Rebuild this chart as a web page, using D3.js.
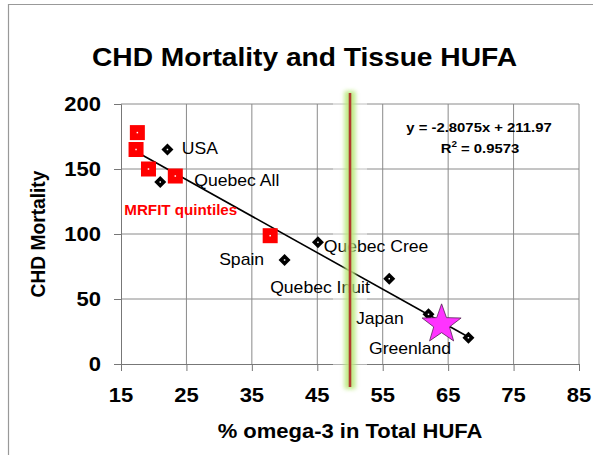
<!DOCTYPE html>
<html><head><meta charset="utf-8">
<script src="https://cdn.jsdelivr.net/npm/d3@7"></script>
<style>body{margin:0;background:#fff}svg{display:block;font-family:"Liberation Sans",Arial,sans-serif}</style>
</head><body>
<script>
// ---- data ----
const xTicks = [15, 25, 35, 45, 55, 65, 75, 85];
const yTicks = [0, 50, 100, 150, 200];
const mrfitX = [17.5, 17.3, 19.2, 23.3, 37.8];
const mrfitY = [178, 165, 150, 144.6, 98.7];
const countryNames = ["USA", "Quebec All", "Spain", "Quebec Cree", "Quebec Inuit", "Japan", "Greenland"];
const countryX = [22.1, 21.0, 40.0, 45.1, 56.0, 62.0, 68.1];
const countryY = [165, 140, 80, 93.6, 65.6, 38.2, 20.2];
const starX = [64.0];
const starY = [30.5];
const trendSlope = -2.8075, trendIntercept = 211.97;
const trendXRange = [17.2, 68.1];
const thresholdX = [50];
const labelText = ["USA", "Quebec All", "MRFIT quintiles", "Quebec Cree", "Spain", "Quebec Inuit", "Japan", "Greenland"];
const labelX = [24.3, 26.2, 15.5, 46.0, 30.0, 37.8, 50.9, 52.9];
const labelY = [161.5, 137, 114.6, 86.4, 76.2, 54.8, 30.8, 7.4];
const equationLines = ["y = -2.8075x + 211.97", "R", "2", " = 0.9573"];

// ---- layout ----
const W = 593, H = 455;
const svg = d3.select("body").append("svg").attr("width", W).attr("height", H);
const x = d3.scaleLinear().domain([15, 85]).range([121, 579]);
const y = d3.scaleLinear().domain([0, 200]).range([364, 104]);
const SX = 1.1; // horizontal stretch of the original text

function stretchedText(px, py, str, opts = {}) {
  const g = svg.append("g").attr("transform", `translate(${px},${py}) scale(${SX},1)` + (opts.rotate ? ` rotate(${opts.rotate})` : ""));
  const t = g.append("text").attr("x", 0).attr("y", 0)
    .attr("text-anchor", opts.anchor || "start")
    .attr("font-size", opts.size || 14)
    .attr("font-weight", opts.weight || "normal")
    .attr("fill", opts.fill || "#000")
    .text(str);
  return t;
}

// frame
svg.append("path").attr("d", `M8.5,${H} V4.5 H${W}`).attr("fill", "none").attr("stroke", "#999").attr("stroke-width", 1.2);

// gridlines
const grid = svg.append("g").attr("stroke", "#8a8a8a").attr("stroke-width", 1);
grid.selectAll(".vg").data(xTicks.slice(1)).join("line")
  .attr("x1", d => x(d)).attr("x2", d => x(d)).attr("y1", y(200)).attr("y2", y(0));
grid.selectAll(".hg").data(yTicks.slice(1)).join("line")
  .attr("x1", x(15)).attr("x2", x(85)).attr("y1", d => y(d)).attr("y2", d => y(d));

// axes
const xAxis = d3.axisBottom(x).tickValues(xTicks).tickSize(7).tickFormat("");
const gx = svg.append("g").attr("transform", `translate(0,${y(0)})`).call(xAxis);
gx.select(".domain").attr("stroke", "#777");
gx.selectAll(".tick line").attr("stroke", "#777");
const yAxis = d3.axisLeft(y).tickValues(yTicks).tickSize(7).tickFormat("");
const gy = svg.append("g").attr("transform", `translate(${x(15)},0)`).call(yAxis);
gy.select(".domain").attr("stroke", "#777");
gy.selectAll(".tick line").attr("stroke", "#777");

// tick labels
xTicks.forEach(v => stretchedText(x(v), 402, d3.format("d")(v), {anchor: "middle", size: 20, weight: "bold"}));
yTicks.forEach(v => stretchedText(101, y(v) + 7, d3.format("d")(v), {anchor: "end", size: 20, weight: "bold"}));

// washed zone behind threshold
const tx = x(thresholdX[0]);
svg.append("rect").attr("x", tx - 17).attr("width", 34).attr("y", 92).attr("height", 296).attr("fill", "#fff").attr("opacity", 0.45);

// trend line
svg.append("line")
  .attr("x1", x(trendXRange[0])).attr("y1", y(trendSlope * trendXRange[0] + trendIntercept))
  .attr("x2", x(trendXRange[1])).attr("y2", y(trendSlope * trendXRange[1] + trendIntercept))
  .attr("stroke", "#000").attr("stroke-width", 1.6);

// MRFIT squares
const sq = 15;
svg.selectAll(".mr").data(mrfitX.map((v, i) => [v, mrfitY[i]])).join("rect")
  .attr("x", d => x(d[0]) - sq / 2).attr("y", d => y(d[1]) - sq / 2)
  .attr("width", sq).attr("height", sq).attr("fill", "#ff0000");
svg.selectAll(".mrd").data(mrfitX.map((v, i) => [v, mrfitY[i]])).join("rect")
  .attr("x", d => x(d[0]) - 0.75).attr("y", d => y(d[1]) - 0.75).attr("width", 1.5).attr("height", 1.5).attr("fill", "#fff");

// country diamonds
const dm = d3.symbol().type(d3.symbolDiamond2).size(92);
const cpts = countryX.map((v, i) => [v, countryY[i]]);
svg.selectAll(".cd").data(cpts).join("path")
  .attr("d", dm).attr("transform", d => `translate(${x(d[0])},${y(d[1])})`).attr("fill", "#000");
svg.selectAll(".cdd").data(cpts).join("rect")
  .attr("x", d => x(d[0]) - 0.75).attr("y", d => y(d[1]) - 0.75).attr("width", 1.5).attr("height", 1.5).attr("fill", "#fff");

// labels
labelText.forEach((s, i) => {
  const isMr = s === "MRFIT quintiles";
  stretchedText(x(labelX[i]), y(labelY[i]), s, {size: isMr ? 13.8 : 16, weight: isMr ? "bold" : "normal", fill: isMr ? "#ff0000" : "#000"});
});

// star
const starPath = (cx, cy, R, r) => {
  const pts = [];
  for (let k = 0; k < 10; k++) {
    const a = -Math.PI / 2 + k * Math.PI / 5;
    const rad = k % 2 === 0 ? R : r;
    pts.push([cx + rad * Math.cos(a), cy + rad * Math.sin(a)]);
  }
  return "M" + pts.map(p => p.join(",")).join("L") + "Z";
};
svg.selectAll(".star").data(starX.map((v, i) => [v, starY[i]])).join("path")
  .attr("d", d => starPath(x(d[0]), y(d[1]), 20.5, 8.3))
  .attr("fill", "#ff33ff").attr("stroke", "#552255").attr("stroke-width", 0.8);

// threshold glow + line
const defs = svg.append("defs");
defs.append("filter").attr("id", "glow").attr("x", "-2").attr("width", "5")
  .append("feGaussianBlur").attr("stdDeviation", 2.2);
svg.selectAll(".thg").data(thresholdX).join("rect")
  .attr("x", d => x(d) - 5.5).attr("width", 11).attr("y", 91).attr("height", 298)
  .attr("fill", "#b8e878").attr("opacity", 0.9).attr("filter", "url(#glow)");
svg.selectAll(".thl").data(thresholdX).join("line")
  .attr("x1", d => x(d)).attr("x2", d => x(d)).attr("y1", 93).attr("y2", 387)
  .attr("stroke", "#b03a2e").attr("stroke-width", 2.6);

// equation
stretchedText(479, 132, equationLines[0], {anchor: "middle", size: 13.5, weight: "bold"});
const eq2 = stretchedText(480, 153, "", {anchor: "middle", size: 13.5, weight: "bold"});
eq2.append("tspan").text(equationLines[1]);
eq2.append("tspan").attr("dy", -6).attr("font-size", 9).text(equationLines[2]);
eq2.append("tspan").attr("dy", 6).text(equationLines[3]);

// titles
stretchedText(304.5, 66, "CHD Mortality and Tissue HUFA", {anchor: "middle", size: 25.6, weight: "bold"});
stretchedText(350, 438, "% omega-3 in Total HUFA", {anchor: "middle", size: 20, weight: "bold"});
stretchedText(45, 234, "CHD Mortality", {anchor: "middle", size: 19.2, weight: "bold", rotate: -90});
</script>
</body></html>
